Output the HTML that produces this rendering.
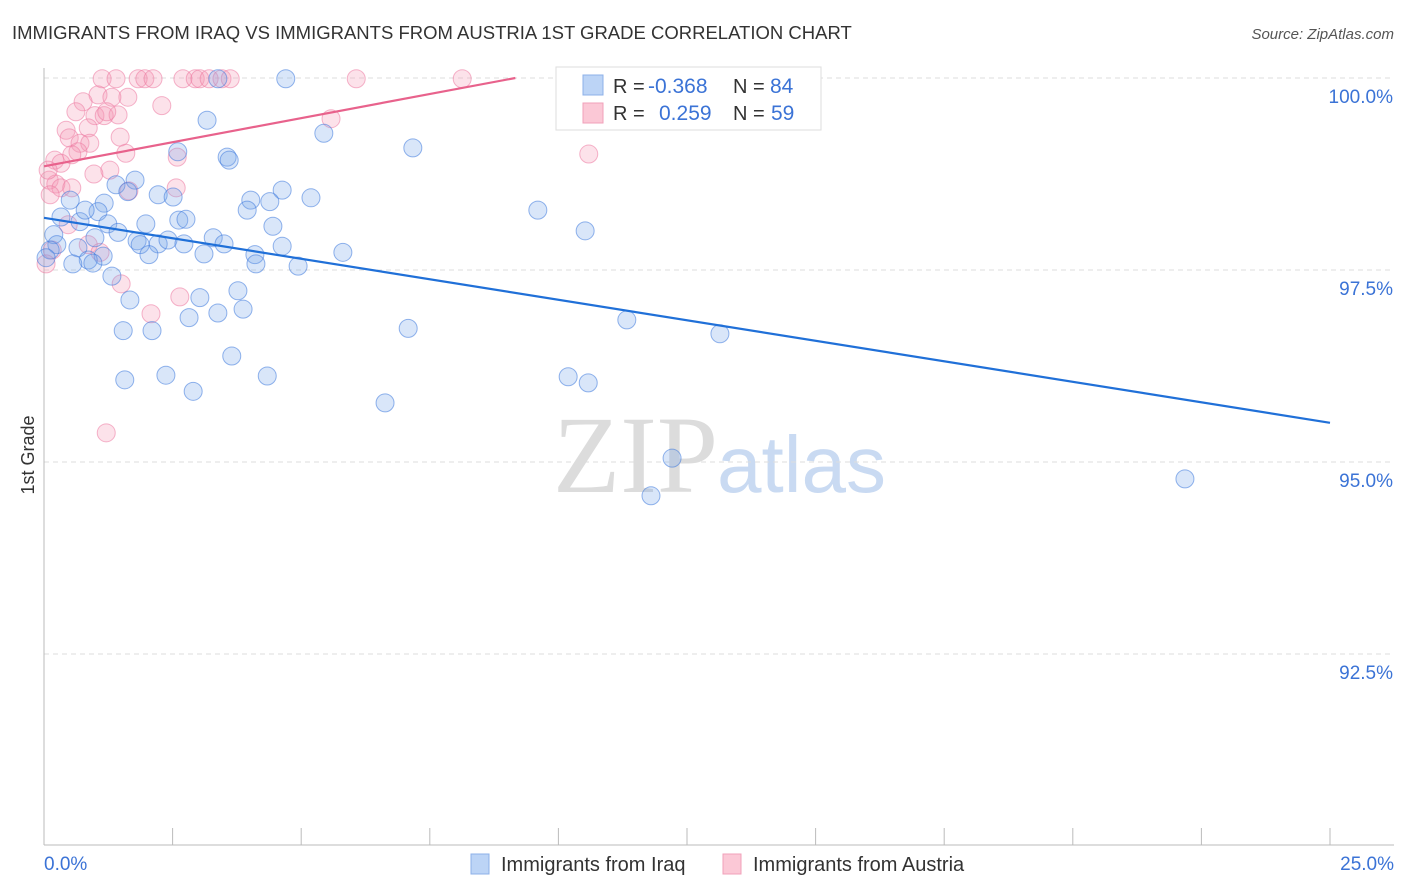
<!DOCTYPE html>
<html><head><meta charset="utf-8">
<style>
body{margin:0;background:#fff;font-family:"Liberation Sans",sans-serif;}
#wrap{position:relative;width:1406px;height:892px;overflow:hidden;}
</style></head>
<body><div id="wrap">
<svg id="chart" width="1406" height="892" xmlns="http://www.w3.org/2000/svg">
<text x="12" y="39" font-size="18.5" fill="#333">IMMIGRANTS FROM IRAQ VS IMMIGRANTS FROM AUSTRIA 1ST GRADE CORRELATION CHART</text>
<text x="1394" y="39" font-size="15" fill="#555" font-style="italic" text-anchor="end">Source: ZipAtlas.com</text>
<text x="34" y="455" font-size="18" fill="#333" text-anchor="middle" transform="rotate(-90 34 455)">1st Grade</text>
<g>
<text x="553" y="492" font-size="110" font-family="Liberation Serif,serif" fill="#dcdcdc">ZIP</text>
<text x="717" y="492" font-size="80" fill="#c9daf2">atlas</text>
</g>
<g id="grid"></g>
<g id="axes"></g>
<g id="pts"></g>
<g id="trends"></g>
<g>
<rect x="556" y="67" width="265" height="63" fill="#fff" stroke="#ddd"/>
<rect x="583" y="75" width="20" height="20" fill="#bcd4f6" stroke="#8db0e8"/>
<text x="613" y="93" font-size="20" fill="#333">R = </text>
<text x="648" y="93" font-size="21" fill="#3b73d6">-0.368</text>
<text x="733" y="93" font-size="20" fill="#333">N = </text>
<text x="770" y="93" font-size="21" fill="#3b73d6">84</text>
<rect x="583" y="103" width="20" height="20" fill="#fbc8d6" stroke="#f0a0ba"/>
<text x="613" y="120" font-size="20" fill="#333">R = </text>
<text x="659" y="120" font-size="21" fill="#3b73d6">0.259</text>
<text x="733" y="120" font-size="20" fill="#333">N = </text>
<text x="771" y="120" font-size="21" fill="#3b73d6">59</text>
</g>
<g>
<rect x="471" y="854" width="18" height="20" fill="#bcd4f6" stroke="#8db0e8"/>
<text x="501" y="871" font-size="20" fill="#333">Immigrants from Iraq</text>
<rect x="723" y="854" width="18" height="20" fill="#fbc8d6" stroke="#f0a0ba"/>
<text x="753" y="871" font-size="20" fill="#333">Immigrants from Austria</text>
</g>
</svg>
<script>
const yTicks=[92.5,95.0,97.5,100.0];
const yTickLabels=["92.5%","95.0%","97.5%","100.0%"];
const xTickCount=10;
const iraqX=[4.70,14.08,3.38,3.17,5.44,7.17,2.60,3.56,3.60,1.77,1.40,1.63,2.22,2.51,5.19,4.63,4.02,4.39,3.95,9.60,0.51,1.17,0.33,0.70,1.05,0.80,1.24,1.98,2.62,2.76,4.45,10.52,0.19,1.44,0.99,0.25,1.81,1.87,2.22,2.41,2.72,3.29,3.50,4.63,5.81,0.12,0.66,1.15,0.86,0.56,0.95,2.04,3.11,4.10,4.12,4.94,1.32,3.77,1.67,3.03,3.87,3.38,2.82,1.54,2.10,7.08,11.33,13.14,3.65,1.57,2.37,4.34,10.19,10.58,2.90,6.63,12.21,11.80,22.18,0.04];
const iraqY=[99.99,99.99,99.99,99.45,99.28,99.09,99.04,98.97,98.93,98.67,98.61,98.52,98.48,98.45,98.44,98.54,98.41,98.39,98.28,98.28,98.41,98.37,98.19,98.13,98.26,98.28,98.10,98.10,98.15,98.16,98.07,98.01,97.96,97.99,97.92,97.83,97.88,97.83,97.84,97.89,97.84,97.92,97.84,97.81,97.73,97.76,97.79,97.68,97.63,97.58,97.59,97.70,97.71,97.70,97.58,97.55,97.42,97.23,97.11,97.14,96.99,96.94,96.88,96.71,96.71,96.74,96.85,96.67,96.38,96.07,96.13,96.12,96.11,96.03,95.92,95.77,95.05,94.56,94.78,97.66];
const austriaX=[1.13,1.40,1.83,1.96,2.12,2.70,2.94,3.03,3.21,3.46,3.62,6.07,8.13,1.05,1.63,0.76,1.32,2.29,0.62,0.99,1.17,1.44,1.22,5.58,0.43,0.86,0.49,1.48,0.70,0.89,0.66,1.59,2.59,0.21,0.54,0.33,10.59,1.28,0.97,0.10,0.23,2.57,1.65,0.33,0.54,0.12,0.47,0.86,1.09,0.16,1.50,2.64,2.08,1.21,0.04,0.08];
const austriaY=[99.99,99.99,99.99,99.99,99.99,99.99,99.99,99.99,99.99,99.99,99.99,99.99,99.99,99.78,99.75,99.69,99.75,99.64,99.56,99.51,99.51,99.52,99.56,99.47,99.32,99.35,99.22,99.23,99.15,99.15,99.04,99.02,98.97,98.93,99.00,98.89,99.01,98.80,98.75,98.67,98.62,98.57,98.53,98.57,98.57,98.48,98.09,97.83,97.73,97.76,97.32,97.15,96.93,95.38,97.58,98.80];
const iraqTrend=[98.18,95.51]; // y at x=0 and x=25
const austriaTrend=[98.85,0.1255]; // intercept, slope per %

const NS="http://www.w3.org/2000/svg";
const X0=44,X1=1330,Y100=78,YPX=76.8;
function sx(v){return X0+v/25*(X1-X0);}
function sy(v){return Y100+(100-v)*YPX;}
function mk(tag,attrs,parent){const e=document.createElementNS(NS,tag);for(const k in attrs)e.setAttribute(k,attrs[k]);parent.appendChild(e);return e;}
const grid=document.getElementById('grid'),axes=document.getElementById('axes'),pts=document.getElementById('pts'),tr=document.getElementById('trends');
yTicks.forEach((t,i)=>{
  const l=mk('line',{x1:44,x2:1394,y1:sy(t),y2:sy(t),stroke:'#ddd','stroke-dasharray':'5,4'},grid);
  
  
  const tx=mk('text',{x:1393,y:sy(t)+25,'font-size':19,fill:'#3b73d6','text-anchor':'end'},axes);
  tx.textContent=yTickLabels[i];
  
  
});
let a=mk('line',{x1:44,x2:44,y1:68,y2:845,stroke:'#bbb'},axes);


a=mk('line',{x1:44,x2:1394,y1:845,y2:845,stroke:'#bbb'},axes);


for(let i=0;i<=xTickCount;i++){
  const x=sx(25*i/xTickCount);
  const t=mk('line',{x1:x,x2:x,y1:828,y2:845,stroke:'#bbb'},axes);
  
  
}
let t=mk('text',{x:44,y:870,'font-size':19,fill:'#3b73d6'},axes);t.textContent='0.0%';


t=mk('text',{x:1394,y:870,'font-size':19,fill:'#3b73d6','text-anchor':'end'},axes);t.textContent='25.0%';


austriaX.forEach((v,i)=>{
  const c=mk('circle',{cx:sx(v),cy:sy(austriaY[i]),r:9,fill:'rgba(244,150,180,0.28)',stroke:'rgba(236,120,160,0.55)','stroke-width':1},pts);
  
  
});
iraqX.forEach((v,i)=>{
  const c=mk('circle',{cx:sx(v),cy:sy(iraqY[i]),r:9,fill:'rgba(120,165,235,0.28)',stroke:'rgba(60,120,220,0.55)','stroke-width':1},pts);
  
  
});
let l=mk('line',{x1:sx(0),y1:sy(iraqTrend[0]),x2:sx(25),y2:sy(iraqTrend[1]),stroke:'#2070d8','stroke-width':2.2},tr);


const xEnd=Math.min(25,(100-austriaTrend[0])/austriaTrend[1]);
l=mk('line',{x1:sx(0),y1:sy(austriaTrend[0]),x2:sx(xEnd),y2:sy(austriaTrend[0]+austriaTrend[1]*xEnd),stroke:'#e8628c','stroke-width':2.2},tr);


</script>
</div></body></html>
